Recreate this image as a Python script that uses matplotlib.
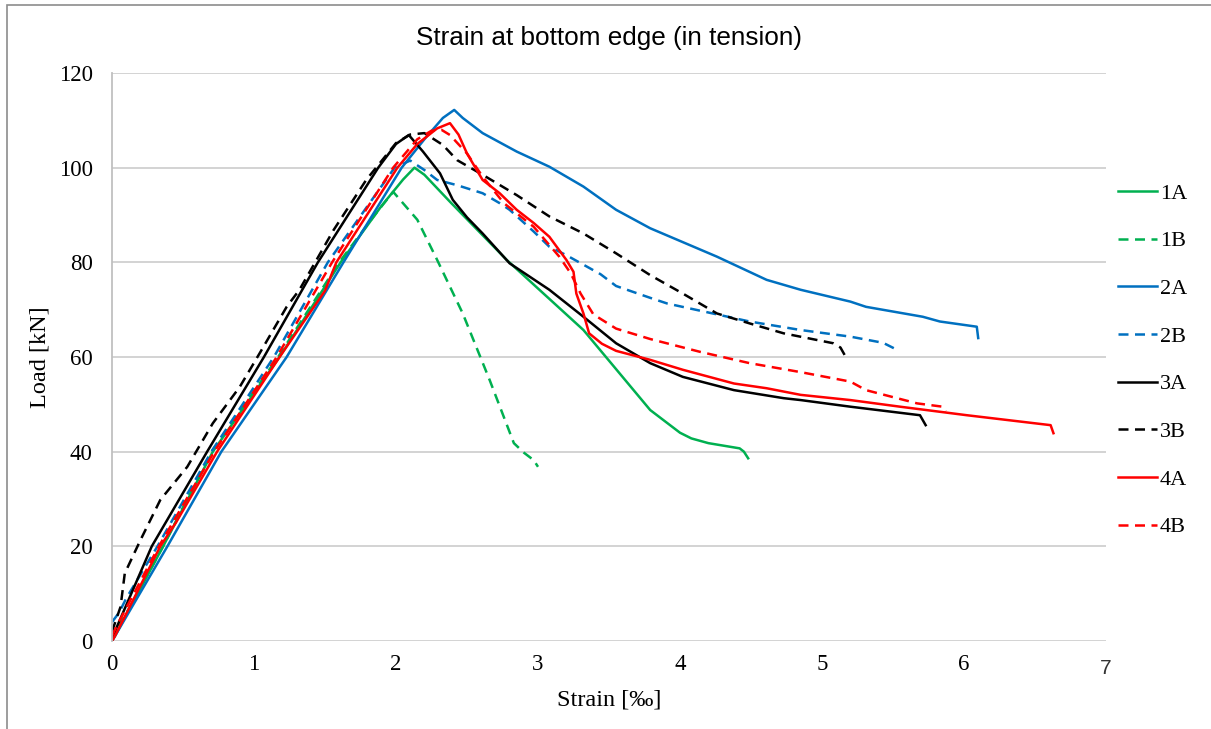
import matplotlib
matplotlib.use("Agg")
import matplotlib.pyplot as plt
from matplotlib.lines import Line2D

# strain [per mille] / load [kN]
s_1A = [0, 0.02, 0.36, 0.71, 1.18, 1.61, 1.9, 2.05, 2.13, 2.2, 2.38, 2.78, 3.32, 3.79, 4.0, 4.08, 4.2, 4.42, 4.45, 4.48]
p_1A = [0, 1, 20, 40, 60, 80, 92, 97.5, 100, 98.5, 92.8, 80.5, 65.7, 48.8, 44, 42.8, 41.8, 40.7, 40, 38.6]

s_1B = [0, 0.03, 0.36, 0.7, 1.17, 1.6, 1.85, 1.98, 2.15, 2.29, 2.47, 2.66, 2.83, 2.9, 2.97, 3.0]
p_1B = [0, 2, 20, 40, 60, 80, 90, 94.9, 89, 80.5, 69.2, 55.1, 41.8, 39.8, 38.2, 36.8]

s_2A = [0, 0.02, 0.39, 0.77, 1.23, 1.63, 2.04, 2.2, 2.33, 2.41, 2.47, 2.61, 2.85, 3.08, 3.32, 3.55,
        3.79, 4.26, 4.61, 4.85, 5.2, 5.31, 5.71, 5.83, 6.09, 6.10]
p_2A = [0, 1, 20, 40, 60, 80, 100, 106, 110.5, 112.2, 110.5, 107.3, 103.4, 100.2, 96.0, 91.1,
        87.2, 81.2, 76.3, 74.2, 71.7, 70.6, 68.5, 67.5, 66.4, 64.0]

s_2B = [0, 0.05, 0.1, 0.32, 0.7, 1.14, 1.52, 1.99, 2.1, 2.2, 2.29, 2.43, 2.61, 2.73, 2.8, 2.97, 3.08,
        3.2, 3.44, 3.55, 3.79, 3.91, 4.49, 4.85, 5.2, 5.43, 5.53]
p_2B = [4, 6, 9, 20, 40, 60, 80, 100, 101.5, 99.5, 97.4, 96.3, 94.6, 92.5, 91.1, 86.5, 83.3,
        81.5, 77.5, 75.0, 72.5, 71.3, 67.5, 65.7, 64.3, 63.0, 61.5]

s_3A = [0, 0.02, 0.28, 0.67, 1.07, 1.45, 1.875, 2.0, 2.09, 2.19, 2.31, 2.40, 2.50, 2.61, 2.80, 3.08,
        3.32, 3.55, 3.67, 3.79, 4.02, 4.38, 4.73, 4.85, 5.2, 5.69, 5.73]
p_3A = [1, 2, 20, 40, 60, 80, 100, 105, 106.9, 103.4, 98.8, 93.2, 89.5, 86.1, 79.8, 74.2,
        68.5, 62.9, 60.8, 58.7, 55.8, 53.0, 51.3, 50.9, 49.5, 47.7, 45.6]

s_3B = [0, 0.06, 0.09, 0.2, 0.34, 0.53, 0.71, 0.9, 1.04, 1.23, 1.32, 1.56, 1.79, 2.0, 2.1, 2.2, 2.33,
        2.43, 2.61, 2.85, 3.08, 3.32, 3.55, 3.79, 4.02, 4.26, 4.49, 4.73, 5.08, 5.13, 5.16]
p_3B = [2, 7.2, 14.3, 21.3, 29.8, 36.8, 46, 53.7, 60.8, 70.6, 74.2, 86.8, 97.4, 105.2, 107, 107.3, 104.8,
        101.6, 98.5, 94.2, 89.7, 86.1, 81.9, 77.3, 73.4, 69.2, 67.1, 65.0, 62.9, 62, 60.4]

s_4A = [0, 0.02, 0.34, 0.45, 0.74, 1.18, 1.5, 1.58, 2.01, 2.15, 2.29, 2.38, 2.44, 2.50, 2.61, 2.73,
        2.85, 2.97, 3.08, 3.20, 3.25, 3.27, 3.32, 3.36, 3.45, 3.55, 3.79, 4.02, 4.38, 4.61, 4.73,
        4.85, 5.2, 5.55, 6.02, 6.61, 6.63]
p_4A = [0, 1, 20, 25, 40, 60, 74, 80, 100, 105, 108.3, 109.4, 107, 103.0, 97.4, 94.6,
        91.1, 88.3, 85.4, 80.5, 78.0, 73.4, 69.2, 65.0, 62.8, 61.3, 59.4, 57.3, 54.4, 53.4, 52.7,
        52.0, 50.9, 49.5, 47.7, 45.6, 43.9]

s_4B = [0, 0.03, 0.33, 0.72, 1.16, 1.55, 1.98, 2.15, 2.25, 2.32, 2.38, 2.50, 2.61, 2.76, 2.97, 3.15,
        3.23, 3.30, 3.39, 3.55, 3.79, 4.14, 4.49, 4.85, 5.2, 5.31, 5.67, 5.85, 5.87]
p_4B = [1, 3, 20, 40, 60, 80, 100, 106, 107.8, 108, 106.9, 103, 98.1, 92.5, 87.5, 81.2,
        77.7, 73.4, 69.0, 66, 63.8, 61.1, 58.7, 56.8, 54.8, 53.0, 50.2, 49.5, 48.5]

x_ticks = [0, 1, 2, 3, 4, 5, 6, 7]
y_ticks = [0, 20, 40, 60, 80, 100, 120]

green, blue, red = "#00B050", "#0070C0", "#FF0000"
series = [
    ("1A", s_1A, p_1A, green, "-"),
    ("1B", s_1B, p_1B, green, "--"),
    ("2A", s_2A, p_2A, blue, "-"),
    ("2B", s_2B, p_2B, blue, "--"),
    ("3A", s_3A, p_3A, "black", "-"),
    ("3B", s_3B, p_3B, "black", "--"),
    ("4A", s_4A, p_4A, red, "-"),
    ("4B", s_4B, p_4B, red, "--"),
]

serif = ["Liberation Serif", "DejaVu Serif"]
sans = ["Liberation Sans", "DejaVu Sans"]
dash = (0, (4, 2.6))

fig = plt.figure(figsize=(12.11, 7.29), dpi=100)
# outer chart frame
fig.add_artist(plt.Rectangle((7 / 1211, -0.05), 1.1, 1 - 5 / 729 + 0.05, transform=fig.transFigure,
                             fill=False, edgecolor="#8C8C8C", linewidth=1.2))
ax = fig.add_axes([112 / 1211, 1 - 641 / 729, 994 / 1211, 568 / 729])

for name, s, p, c, ls in series:
    ax.plot(s, p, color=c, lw=1.8, linestyle=dash if ls == "--" else "-", label=name)

ax.set_xlim(0, 7)
ax.set_ylim(0, 120)
ax.set_xticks(x_ticks)
# last label is drawn separately (different font in the original)
ax.set_xticklabels([str(t) for t in x_ticks[:-1]] + [""])
ax.set_yticks(y_ticks)
ax.grid(axis="y", color="#D0D0D0", lw=1.3)
ax.set_axisbelow(True)
for side in ["top", "right", "bottom"]:
    ax.spines[side].set_visible(False)
ax.spines["left"].set_color("#C0C0C0")
ax.spines["left"].set_linewidth(1.3)
ax.tick_params(length=0, labelsize=16.5)
ax.tick_params(axis="x", pad=9)
ax.tick_params(axis="y", pad=14)
for lbl in ax.get_xticklabels() + ax.get_yticklabels():
    lbl.set_fontfamily(serif)
ax.text(x_ticks[-1], -27 / 568, str(x_ticks[-1]), transform=ax.get_xaxis_transform(),
        ha="center", va="center", fontsize=15, family=sans, color="#333333")

ax.set_xlabel("Strain [‰]", fontsize=17.5, family=serif, labelpad=11)
ax.set_ylabel("Load [kN]", fontsize=17.5, family=serif, labelpad=6)
fig.text(609 / 1211, 1 - 38 / 729, "Strain at bottom edge (in tension)", ha="center", va="center",
         fontsize=18.8, family=sans)

handles = [Line2D([], [], color=c, lw=1.8, linestyle=dash if ls == "--" else "-")
           for _, _, _, c, ls in series]
leg = ax.legend(handles, [n for n, *_ in series], loc="upper left", bbox_to_anchor=(1.012, 0.806),
                frameon=False, borderpad=0, borderaxespad=0, handlelength=1.77, handletextpad=0.12,
                labelspacing=1.22, prop={"family": serif, "size": 16})

fig.savefig("out.png", dpi=100)
